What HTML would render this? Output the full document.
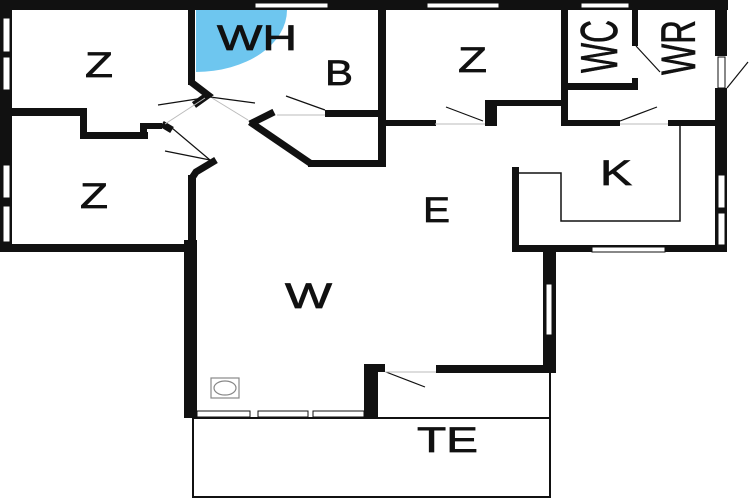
<!DOCTYPE html>
<html><head><style>body{margin:0;background:#fff}svg{display:block}text{font-family:"Liberation Sans",sans-serif;fill:#111;stroke:#111;stroke-width:0.7}</style></head><body>
<svg width="750" height="500" viewBox="0 0 750 500">
<rect width="750" height="500" fill="#fff"/>
<path d="M196 10 L287 10 A91 62 0 0 1 196 72 Z" fill="#6ec6ef"/>
<g fill="#111">
<rect x="0" y="0" width="728" height="10"/>
<rect x="0" y="0" width="12" height="252"/>
<rect x="0" y="244" width="196" height="8"/>
<rect x="715" y="0" width="12" height="56"/>
<rect x="715" y="88" width="12" height="164"/>
<rect x="512" y="245" width="215" height="7"/>
<rect x="512" y="167" width="7" height="85"/>
<rect x="543" y="250" width="13" height="123"/>
<rect x="436" y="365" width="120" height="8"/>
<rect x="364" y="364" width="21" height="8"/>
<rect x="364" y="364" width="14" height="54"/>
<rect x="184" y="240" width="13" height="178"/>
<rect x="188" y="175" width="8" height="77"/>
<rect x="188" y="10" width="7" height="75"/>
<rect x="12" y="108" width="73" height="8"/>
<rect x="80" y="108" width="7" height="30"/>
<rect x="80" y="132" width="68" height="7"/>
<rect x="140" y="123" width="7" height="15"/>
<rect x="140" y="123" width="22" height="6"/>
<rect x="378" y="10" width="8" height="157"/>
<rect x="325" y="110" width="60" height="7"/>
<rect x="308" y="160" width="77" height="7"/>
<rect x="386" y="120" width="50" height="6"/>
<rect x="485" y="100" width="12" height="26"/>
<rect x="485" y="100" width="80" height="6"/>
<rect x="561" y="10" width="7" height="116"/>
<rect x="567" y="83" width="70" height="7"/>
<rect x="632" y="10" width="6" height="36"/>
<rect x="632" y="78" width="6" height="12"/>
<rect x="567" y="120" width="53" height="6"/>
<rect x="668" y="120" width="47" height="6"/>
</g>
<g stroke="#111" fill="none">
<polyline points="191,82 208,95 194,105" stroke-width="7"/>
<polyline points="162,124 172,130" stroke-width="7"/>
<polyline points="216,160 196,172 192,178" stroke-width="7"/>
<line x1="250" y1="122" x2="310" y2="163" stroke-width="7"/>
<line x1="250" y1="124" x2="274" y2="112" stroke-width="7"/>
<line x1="210" y1="97" x2="158" y2="105" stroke-width="1.2"/>
<line x1="210" y1="97" x2="255" y2="103" stroke-width="1.2"/>
<line x1="286" y1="96" x2="325" y2="110" stroke-width="1.2"/>
<line x1="172" y1="128" x2="210" y2="160" stroke-width="1.2"/>
<line x1="165" y1="151" x2="210" y2="160" stroke-width="1.2"/>
<line x1="446" y1="107" x2="483" y2="121" stroke-width="1.2"/>
<line x1="620" y1="121" x2="657" y2="107" stroke-width="1.2"/>
<line x1="636" y1="46" x2="660" y2="72" stroke-width="1.2"/>
<line x1="727" y1="88" x2="748" y2="62" stroke-width="1.2"/>
<line x1="386" y1="372" x2="425" y2="387" stroke-width="1.2"/>
<polyline points="680,126 680,221 561,221 561,173 518,173" stroke-width="1.5"/>
<rect x="193" y="418" width="357" height="79" stroke-width="2"/>
<line x1="550" y1="372" x2="550" y2="418" stroke-width="2"/>
<rect x="211" y="378" width="28" height="20" stroke="#888" stroke-width="1.2"/>
<ellipse cx="225" cy="388" rx="11" ry="7" stroke="#888" stroke-width="1.2"/>
<g stroke="#bbb" stroke-width="1"><line x1="277" y1="115" x2="325" y2="115"/><line x1="435" y1="124" x2="485" y2="124"/><line x1="620" y1="124" x2="668" y2="124"/><line x1="385" y1="372" x2="436" y2="372"/><line x1="165" y1="124" x2="205" y2="98"/><line x1="212" y1="98" x2="248" y2="120"/></g>
</g>
<g fill="#fff" stroke="#111" stroke-width="1">
<rect x="255" y="3" width="73" height="5"/><rect x="427" y="3" width="72" height="5"/><rect x="581" y="3" width="48" height="5"/>
<rect x="3" y="18" width="7" height="34"/><rect x="3" y="57" width="7" height="33"/>
<rect x="3" y="165" width="7" height="33"/><rect x="3" y="206" width="7" height="36"/>
<rect x="718" y="57" width="7" height="31"/><rect x="718" y="175" width="7" height="33"/><rect x="718" y="213" width="7" height="32"/>
<rect x="592" y="247" width="73" height="5"/><rect x="546" y="284" width="6" height="51"/>
<rect x="197" y="411" width="53" height="6"/><rect x="258" y="411" width="50" height="6"/><rect x="313" y="411" width="51" height="6"/>
</g>
<g font-size="35">
<text x="85" y="77" textLength="28" lengthAdjust="spacingAndGlyphs">Z</text>
<text x="217" y="50" textLength="80" lengthAdjust="spacingAndGlyphs">WH</text>
<text x="325" y="85" textLength="28" lengthAdjust="spacingAndGlyphs">B</text>
<text x="80" y="208" textLength="28" lengthAdjust="spacingAndGlyphs">Z</text>
<text x="458" y="72" textLength="29" lengthAdjust="spacingAndGlyphs">Z</text>
<text x="600" y="185" textLength="32" lengthAdjust="spacingAndGlyphs">K</text>
<text x="423" y="222" textLength="27" lengthAdjust="spacingAndGlyphs">E</text>
<text x="285" y="308" textLength="47" lengthAdjust="spacingAndGlyphs">W</text>
<text x="417" y="452" textLength="61" lengthAdjust="spacingAndGlyphs">TE</text>
<text transform="translate(617,73) rotate(-90)" font-size="52" textLength="53" lengthAdjust="spacingAndGlyphs">WC</text>
<text transform="translate(695,75) rotate(-90)" font-size="48" textLength="55" lengthAdjust="spacingAndGlyphs">WR</text>
</g>
</svg>
</body></html>
